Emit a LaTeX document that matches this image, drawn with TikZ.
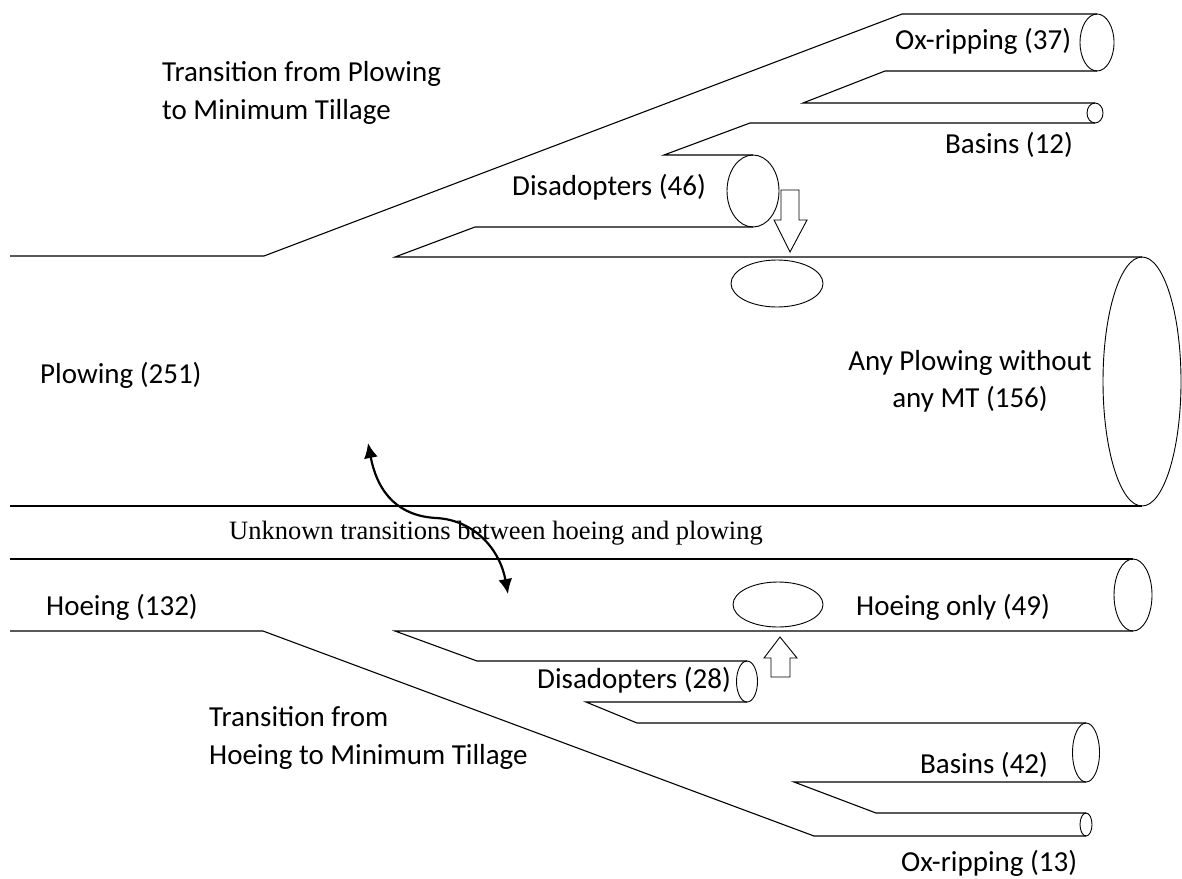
\documentclass[tikz,border=0pt]{standalone}
\usepackage{fontspec}
\setmainfont{Carlito}
\newfontfamily\timesfont{Liberation Serif}
\usetikzlibrary{arrows.meta}
\begin{document}
\begin{tikzpicture}[x=1pt,y=-1pt,
  pipe/.style={line width=1.1pt, line join=miter},
  rim/.style={line width=0.9pt},
  blockarrow/.style={line width=0.9pt, fill=white},
  lbl/.style={font=\fontsize{29}{38}\selectfont, inner sep=0pt},
  note/.style={font=\timesfont\fontsize{26.5}{30}\selectfont, inner sep=0pt},
  flow/.style={line width=2.2pt, {Latex[length=15pt,width=14pt]}-{Latex[length=15pt,width=14pt]}}]
\useasboundingbox[fill=white] (0,0) rectangle (1182,878);
% upper (plowing) tubes
\draw[pipe] (10,256) -- (264,256) -- (902,14) -- (1097,14);
\draw[pipe] (1097,71) -- (885,71) -- (803,103) -- (1095,103);
\draw[pipe] (1095,123) -- (750,123) -- (664,155) -- (753,155);
\draw[pipe] (753,227) -- (475,227) -- (395,257) -- (1142,257);
\draw[pipe] (10,506) -- (1142,506);
\draw[rim] (1097,42.5) ellipse [x radius=17, y radius=28.5];
\draw[rim] (1095,113) ellipse [x radius=8, y radius=10];
\draw[rim] (753,191) ellipse [x radius=26, y radius=36];
\draw[rim] (777,283.5) ellipse [x radius=46, y radius=23.5];
\draw[rim] (1142,381.5) ellipse [x radius=39, y radius=124.5];
% lower (hoeing) tubes
\draw[pipe] (10,559) -- (1133,559);
\draw[pipe] (1133,631) -- (395,631) -- (477,661) -- (747,661);
\draw[pipe] (747,702) -- (586,702) -- (637,723) -- (1086,723);
\draw[pipe] (1086,782) -- (794,782) -- (876,813) -- (1086,813);
\draw[pipe] (10,631) -- (263,631) -- (814,836) -- (1086,836);
\draw[rim] (1133,595) ellipse [x radius=19, y radius=36];
\draw[rim] (778,604.5) ellipse [x radius=45, y radius=22.5];
\draw[rim] (747,681.5) ellipse [x radius=10.5, y radius=20.5];
\draw[rim] (1086,752.5) ellipse [x radius=13.5, y radius=29.5];
\draw[rim] (1086,824.5) ellipse [x radius=6, y radius=11.5];
% block arrows
\draw[blockarrow] (781,190) -- (799,190) -- (799,220) -- (807,220) -- (790,252) -- (774,220) -- (781,220) -- cycle;
\draw[blockarrow] (780,637) -- (797,658) -- (790,658) -- (790,677) -- (771,677) -- (771,658) -- (764,658) -- cycle;
% labels
\node[lbl, anchor=west, align=left] (tp) at (162,92.5) {Transition from Plowing\\to Minimum Tillage};
\node[lbl, anchor=west] (ox37) at (895,41) {Ox-ripping (37)};
\node[lbl, anchor=west] (bas12) at (945,145) {Basins (12)};
\node[lbl, anchor=west] (dis46) at (512,187) {Disadopters (46)};
\node[lbl, anchor=west] (plow) at (40,375) {Plowing (251)};
\node[lbl, align=center, font=\fontsize{29}{37}\selectfont] (any) at (970,381.5) {Any Plowing without\\any MT (156)};
\node[note, anchor=west] (unk) at (229,533) {Unknown transitions between hoeing and plowing};
\node[lbl, anchor=west] (hoe) at (46,607) {Hoeing (132)};
\node[lbl, anchor=west] (hoeonly) at (856,607) {Hoeing only (49)};
\node[lbl, anchor=west] (dis28) at (537,680) {Disadopters (28)};
\node[lbl, anchor=west, align=left] (th) at (209,738) {Transition from\\Hoeing to Minimum Tillage};
\node[lbl, anchor=west] (bas42) at (920,765) {Basins (42)};
\node[lbl, anchor=west] (ox13) at (901,863) {Ox-ripping (13)};
% curved double arrow
\coordinate (a1) at (368,443);
\coordinate (a2) at (508,594);
\draw[flow] (a1) .. controls (378,495) and (400,516) .. (436,518) .. controls (475,520) and (500,550) .. (a2);
\end{tikzpicture}
\end{document}
